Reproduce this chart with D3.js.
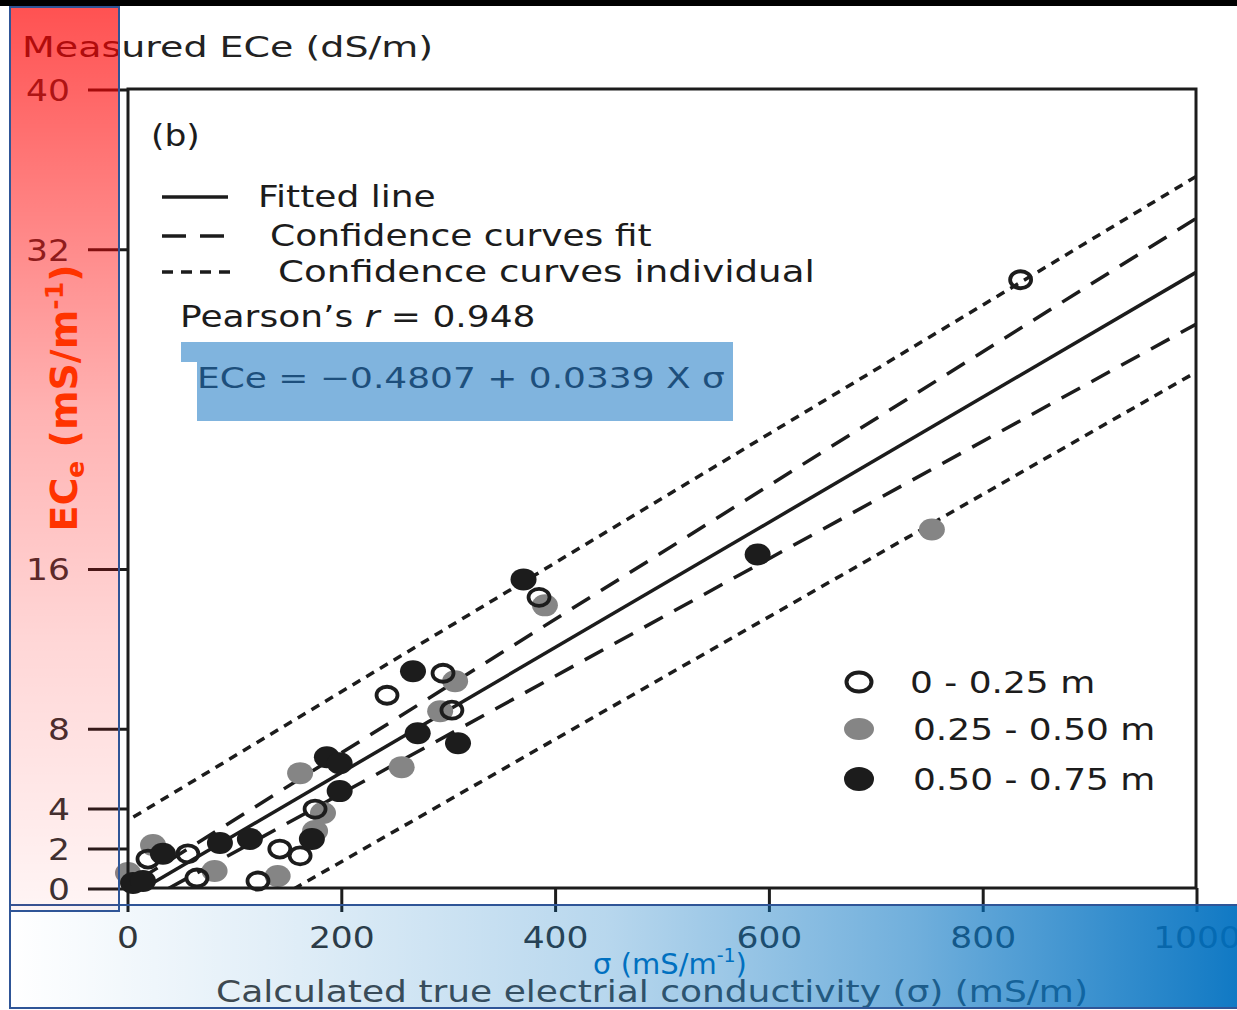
<!DOCTYPE html>
<html>
<head>
<meta charset="utf-8">
<script src="https://cdn.jsdelivr.net/npm/d3@7"></script>
<style>
  body { margin: 0; background: #fff; }
  svg { display: block; }
  text { font-family: "DejaVu Sans", sans-serif; }
</style>
</head>
<body>
<div id="chart"></div>
<script>
const xTicks = [0, 200, 400, 600, 800, 1000];
const yTicks = [0, 2, 4, 8, 16, 32, 40];

// [sigma (mS/m), ECe (dS/m)] per depth class
const depth0to25 = [[18.7, 1.5], [56, 1.76], [64.5, 0.55], [121.6, 0.4], [142, 2.0], [161, 1.66],
    [175, 4.0], [242.3, 9.7], [294.7, 10.8], [303, 8.95], [384.5, 14.6], [835, 30.5]];
const depth25to50 = [[0, 0.8], [23.4, 2.2], [81, 0.9], [140, 0.65], [161, 5.8], [175, 2.9],
    [182.4, 3.8], [256, 6.1], [292, 8.9], [306, 10.4], [390, 14.2], [752, 18.0]];
const depth50to75 = [[4.7, 0.3], [14, 0.4], [32.7, 1.76], [86, 2.3], [114, 2.5], [172, 2.5],
    [186, 6.6], [198, 6.3], [198, 4.9], [266.6, 10.9], [271, 7.8], [308.7, 7.3], [370, 15.5], [589, 16.75]];

const fittedLine = [[20, 0.2], [1000, 30.9]];
const fitUpper = [[11, 0.5], [1000, 33.6]];
const fitLower = [[37, 0], [1000, 28.3]];
const indivUpper = [[5, 3.6], [1000, 35.7]];
const indivLower = [[155, 0], [1000, 25.9]];

const legendLines = ["Fitted line", "Confidence curves fit", "Confidence curves individual"];
const depthLabels = ["0 - 0.25 m", "0.25 - 0.50 m", "0.50 - 0.75 m"];

const W = 1237, H = 1010;
const frame = {left: 128, right: 1196, top: 89, bottom: 888};
const ink = "#1c1c1c";

const svg = d3.select("#chart").append("svg")
    .attr("width", W)
    .attr("height", H);

svg.append("rect").attr("width", W).attr("height", H).attr("fill", "#fff");
svg.append("rect").attr("width", W).attr("height", 6).attr("fill", "#000");

const x = d3.scaleLinear().domain([0, 1000]).range([128, 1197]);
const y = d3.scaleLinear().domain([0, 40]).range([889, 90]);

// text stretched sideways like the scanned figure
function stext(parent, px, py, txt, size, sx, anchor) {
    return parent.append("text")
        .attr("transform", "translate(" + px + "," + py + ") scale(" + sx + ",1)")
        .attr("font-size", size)
        .attr("fill", ink)
        .attr("text-anchor", anchor || "start")
        .text(txt);
}

const defs = svg.append("defs");
defs.append("clipPath").attr("id", "plotClip")
    .append("rect")
    .attr("x", frame.left).attr("y", frame.top)
    .attr("width", frame.right - frame.left).attr("height", frame.bottom - frame.top);

// regression + confidence lines
const line = d3.line().x(d => x(d[0])).y(d => y(d[1]));
const lineG = svg.append("g").attr("clip-path", "url(#plotClip)");
[
    {data: fittedLine, dash: null},
    {data: fitUpper, dash: "21,13"},
    {data: fitLower, dash: "21,13"},
    {data: indivUpper, dash: "9,7"},
    {data: indivLower, dash: "9,7"}
].forEach(l => {
    lineG.append("path")
        .attr("d", line(l.data))
        .attr("fill", "none")
        .attr("stroke", ink)
        .attr("stroke-width", 3.5)
        .attr("stroke-dasharray", l.dash);
});

// points
const ptG = svg.append("g");
ptG.selectAll(".mid").data(depth25to50).join("ellipse")
    .attr("cx", d => x(d[0])).attr("cy", d => y(d[1]))
    .attr("rx", 13).attr("ry", 11).attr("fill", "#858585");
ptG.selectAll(".shallow").data(depth0to25).join("ellipse")
    .attr("cx", d => x(d[0])).attr("cy", d => y(d[1]))
    .attr("rx", 10.5).attr("ry", 8.5).attr("fill", "none")
    .attr("stroke", ink).attr("stroke-width", 3.8);
ptG.selectAll(".deep").data(depth50to75).join("ellipse")
    .attr("cx", d => x(d[0])).attr("cy", d => y(d[1]))
    .attr("rx", 13).attr("ry", 11).attr("fill", ink);

// frame
svg.append("rect")
    .attr("x", frame.left).attr("y", frame.top)
    .attr("width", frame.right - frame.left).attr("height", frame.bottom - frame.top)
    .attr("fill", "none").attr("stroke", ink).attr("stroke-width", 3);

// x axis
const xAxis = svg.append("g");
xAxis.selectAll("line").data(xTicks).join("line")
    .attr("x1", d => x(d)).attr("x2", d => x(d))
    .attr("y1", frame.bottom).attr("y2", 912)
    .attr("stroke", ink).attr("stroke-width", 3);
xTicks.forEach(t => {
    stext(xAxis, x(t), 948, d3.format("d")(t), 30, 1.15, "middle").attr("fill", "#333");
});
stext(svg, 652, 1002, "Calculated true electrial conductivity (σ) (mS/m)", 30, 1.2, "middle")
    .attr("fill", "#444");

// y axis
const yAxis = svg.append("g");
yAxis.selectAll("line").data(yTicks).join("line")
    .attr("x1", 88).attr("x2", frame.left)
    .attr("y1", d => y(d)).attr("y2", d => y(d))
    .attr("stroke", ink).attr("stroke-width", 3);
yTicks.forEach(t => {
    stext(yAxis, 70, y(t) + 11, String(t), 30, 1.15, "end").attr("fill", "#333");
});
stext(svg, 22, 57, "Measured ECe (dS/m)", 29, 1.31).attr("fill", "#222");

// panel tag + line legend
stext(svg, 151, 146, "(b)", 30, 1.15);
const legY = [197, 236, 272];
const legX = [258, 270, 278];
const legDash = [null, "24,14", "11,8"];
legendLines.forEach((t, i) => {
    svg.append("line")
        .attr("x1", 162).attr("x2", i === 1 ? 224 : (i === 2 ? 230 : 228))
        .attr("y1", legY[i]).attr("y2", legY[i])
        .attr("stroke", ink).attr("stroke-width", 3.5)
        .attr("stroke-dasharray", legDash[i]);
    stext(svg, legX[i], legY[i] + 10, t, 30, i === 2 ? 1.24 : 1.2);
});
const pear = stext(svg, 180, 327, "Pearson’s ", 30, 1.2);
pear.append("tspan").attr("font-style", "italic").text("r");
pear.append("tspan").text(" = 0.948");

// equation highlight
svg.append("path")
    .attr("d", "M181,342H733V421H197V362H181Z")
    .attr("fill", "#80b4de");
stext(svg, 197, 388, "ECe = −0.4807 + 0.0339 X σ", 29, 1.24).attr("fill", "#1d4f7c");

// depth legend
const depthMarks = [
    {fill: "none", stroke: ink, rx: 12.5, ry: 9.5, sw: 4},
    {fill: "#858585", stroke: "none", rx: 15, ry: 11, sw: 0},
    {fill: ink, stroke: "none", rx: 15, ry: 12, sw: 0}
];
const depY = [682, 729, 779];
depthLabels.forEach((t, i) => {
    const m = depthMarks[i];
    svg.append("ellipse")
        .attr("cx", 859).attr("cy", depY[i])
        .attr("rx", m.rx).attr("ry", m.ry)
        .attr("fill", m.fill).attr("stroke", m.stroke).attr("stroke-width", m.sw);
    stext(svg, i === 0 ? 910 : 913, depY[i] + 11, t, 31, 1.16);
});

// overlays
const redGrad = defs.append("linearGradient").attr("id", "redGrad")
    .attr("x1", 0).attr("y1", 0).attr("x2", 0).attr("y2", 1);
[[0, 0.68], [0.45, 0.3], [0.7, 0.16], [1, 0.04]].forEach(s => {
    redGrad.append("stop").attr("offset", s[0])
        .attr("stop-color", "#ff0000").attr("stop-opacity", s[1]);
});
const blueGrad = defs.append("linearGradient").attr("id", "blueGrad")
    .attr("x1", 0).attr("y1", 0).attr("x2", 1).attr("y2", 0);
[[0, 0], [0.24, 0.13], [0.48, 0.28], [0.73, 0.56], [1, 0.95]].forEach(s => {
    blueGrad.append("stop").attr("offset", s[0])
        .attr("stop-color", "#0070c0").attr("stop-opacity", s[1]);
});

svg.append("rect")
    .attr("x", 10).attr("y", 905).attr("width", 1240).attr("height", 103)
    .attr("fill", "url(#blueGrad)").attr("stroke", "#2f5597").attr("stroke-width", 2);
svg.append("rect")
    .attr("x", 10).attr("y", 7).attr("width", 109).attr("height", 904)
    .attr("fill", "url(#redGrad)").attr("stroke", "#2f5597").attr("stroke-width", 2);

const ecLabel = svg.append("text")
    .attr("transform", "translate(77,398) rotate(-90)")
    .attr("text-anchor", "middle")
    .attr("font-family", "'Liberation Sans', Arial, sans-serif")
    .attr("font-weight", "bold")
    .attr("font-size", 38)
    .attr("fill", "#ff3300");
ecLabel.append("tspan").text("EC");
ecLabel.append("tspan").attr("font-size", 25).attr("dy", 7).text("e");
ecLabel.append("tspan").attr("dy", -7).text(" (mS/m");
ecLabel.append("tspan").attr("font-size", 25).attr("dy", -14).text("-1");
ecLabel.append("tspan").attr("dy", 14).text(")");

const sigLabel = svg.append("text")
    .attr("x", 670).attr("y", 974)
    .attr("text-anchor", "middle")
    .attr("font-size", 29)
    .attr("fill", "#0070c0");
sigLabel.append("tspan").text("σ (mS/m");
sigLabel.append("tspan").attr("font-size", 19).attr("dy", -12).text("-1");
sigLabel.append("tspan").attr("dy", 12).text(")");
</script>
</body>
</html>
